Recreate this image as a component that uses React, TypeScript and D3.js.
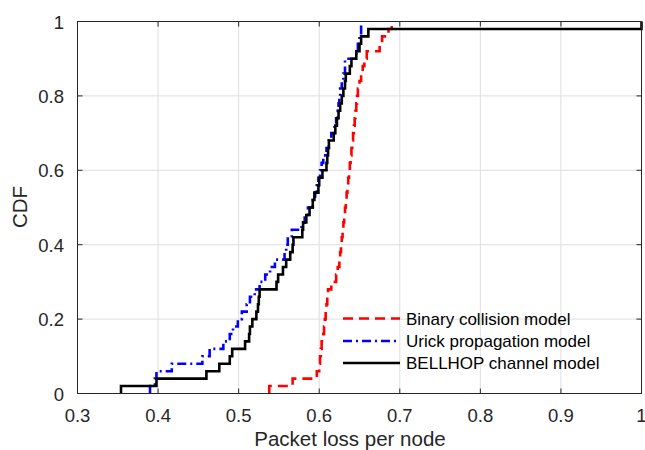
import React from "react";
import * as d3 from "d3";

const xTicks = [0.3, 0.4, 0.5, 0.6, 0.7, 0.8, 0.9, 1];
const xTickLabels = ["0.3", "0.4", "0.5", "0.6", "0.7", "0.8", "0.9", "1"];
const yTicks = [0, 0.2, 0.4, 0.6, 0.8, 1];
const yTickLabels = ["0", "0.2", "0.4", "0.6", "0.8", "1"];

const seriesNames = ["Binary collision model", "Urick propagation model", "BELLHOP channel model"];

// sorted per-node packet loss samples (ECDF)
const binarySamples = [
  0.538, 0.567, 0.597, 0.600, 0.601, 0.602, 0.603, 0.605, 0.606, 0.607,
  0.608, 0.609, 0.610, 0.611, 0.615, 0.621, 0.623, 0.625, 0.626, 0.627,
  0.628, 0.629, 0.630, 0.631, 0.632, 0.633, 0.634, 0.635, 0.636, 0.637,
  0.638, 0.639, 0.640, 0.641, 0.642, 0.643, 0.644, 0.645, 0.646, 0.647,
  0.648, 0.650, 0.652, 0.654, 0.656, 0.659, 0.675, 0.678, 0.686, 0.690,
];
const urickSamples = [
  0.390, 0.396, 0.398, 0.417, 0.455, 0.464, 0.481, 0.489, 0.493, 0.499,
  0.504, 0.510, 0.514, 0.520, 0.526, 0.533, 0.539, 0.545, 0.557, 0.559,
  0.561, 0.566, 0.578, 0.582, 0.586, 0.592, 0.595, 0.597, 0.599, 0.601,
  0.603, 0.605, 0.609, 0.612, 0.615, 0.619, 0.621, 0.623, 0.624, 0.625,
  0.626, 0.628, 0.630, 0.632, 0.632, 0.646, 0.648, 0.650, 0.652, 0.652,
];
const bellhopSamples = [
  0.354, 0.398, 0.460, 0.476, 0.489, 0.492, 0.508, 0.513, 0.514, 0.517,
  0.522, 0.524, 0.525, 0.526, 0.547, 0.549, 0.555, 0.559, 0.564, 0.567,
  0.568, 0.579, 0.580, 0.584, 0.588, 0.592, 0.594, 0.599, 0.600, 0.604,
  0.609, 0.610, 0.611, 0.612, 0.618, 0.620, 0.622, 0.624, 0.626, 0.628,
  0.630, 0.632, 0.633, 0.638, 0.640, 0.646, 0.650, 0.652, 0.661, 1.0,
];

const colors = ["#ff0000", "#0000ff", "#000000"];
const dashes = ["10,6", "9,4,2,4", null];

const W = 645;
const H = 450;
const left = 77.5;
const right = 641.5;
const top = 21.5;
const bottom = 393.5;
const font = "'Liberation Sans', Arial, Helvetica, sans-serif";
const axisColor = "#262626";

function ecdfPoints(samples: number[]): [number, number][] {
  const n = samples.length;
  const pts: [number, number][] = [];
  samples.forEach((v, k) => {
    pts.push([v, k / n]);
    pts.push([v, (k + 1) / n]);
  });
  return pts;
}

export default function App() {
  const x = d3.scaleLinear().domain([0.3, 1]).range([left, right]);
  const y = d3.scaleLinear().domain([0, 1]).range([bottom, top]);
  const line = d3
    .line<[number, number]>()
    .x((d) => x(d[0]))
    .y((d) => y(d[1]));
  const all = [binarySamples, urickSamples, bellhopSamples];
  const legendY = [318.5, 341, 363];

  return (
    <svg
      width={W}
      height={H}
      style={{ position: "absolute", left: 0, top: 0, background: "#fff" }}
    >
      <defs>
        <clipPath id="plotclip">
          <rect x={left} y={top - 2} width={right - left + 2} height={bottom - top + 2} />
        </clipPath>
      </defs>
      <rect x={0} y={0} width={W} height={H} fill="#fff" />
      {/* grid */}
      {xTicks.map((t) => (
        <line key={"gx" + t} x1={x(t)} x2={x(t)} y1={top} y2={bottom} stroke="#dedede" strokeWidth={1} />
      ))}
      {yTicks.map((t) => (
        <line key={"gy" + t} x1={left} x2={right} y1={y(t)} y2={y(t)} stroke="#dedede" strokeWidth={1} />
      ))}
      {/* series */}
      <g clipPath="url(#plotclip)">
        {all.map((s, i) => (
          <path
            key={"s" + i}
            d={line(ecdfPoints(s)) || ""}
            fill="none"
            stroke={colors[i]}
            strokeWidth={2.6}
            strokeDasharray={dashes[i] || undefined}
            strokeLinejoin="miter"
          />
        ))}
      </g>
      {/* axes box */}
      <rect x={left} y={top} width={right - left} height={bottom - top} fill="none" stroke={axisColor} strokeWidth={1} />
      {xTicks.map((t) => (
        <g key={"tx" + t}>
          <line x1={x(t)} x2={x(t)} y1={bottom} y2={bottom - 5} stroke={axisColor} />
          <line x1={x(t)} x2={x(t)} y1={top} y2={top + 5} stroke={axisColor} />
        </g>
      ))}
      {yTicks.map((t) => (
        <g key={"ty" + t}>
          <line x1={left} x2={left + 5} y1={y(t)} y2={y(t)} stroke={axisColor} />
          <line x1={right} x2={right - 5} y1={y(t)} y2={y(t)} stroke={axisColor} />
        </g>
      ))}
      {/* tick labels */}
      {xTicks.map((t, i) => (
        <text
          key={"lx" + t}
          x={x(t)}
          y={421.5}
          textAnchor="middle"
          fontFamily={font}
          fontSize={18.5}
          fill={axisColor}
        >
          {xTickLabels[i]}
        </text>
      ))}
      {yTicks.map((t, i) => (
        <text
          key={"ly" + t}
          x={64}
          y={y(t) + 7}
          textAnchor="end"
          fontFamily={font}
          fontSize={18.5}
          fill={axisColor}
        >
          {yTickLabels[i]}
        </text>
      ))}
      {/* axis labels */}
      <text x={350} y={446} textAnchor="middle" fontFamily={font} fontSize={20.5} fill={axisColor}>
        Packet loss per node
      </text>
      <text
        transform={`translate(26.5, 207) rotate(-90)`}
        textAnchor="middle"
        fontFamily={font}
        fontSize={20.5}
        fill={axisColor}
      >
        CDF
      </text>
      {/* legend */}
      {seriesNames.map((name, i) => (
        <g key={"lg" + i}>
          <line
            x1={343}
            x2={400}
            y1={legendY[i]}
            y2={legendY[i]}
            stroke={colors[i]}
            strokeWidth={2.6}
            strokeDasharray={dashes[i] || undefined}
          />
          <text x={406} y={legendY[i] + 6} fontFamily={font} fontSize={17} fill="#000">
            {name}
          </text>
        </g>
      ))}
    </svg>
  );
}
